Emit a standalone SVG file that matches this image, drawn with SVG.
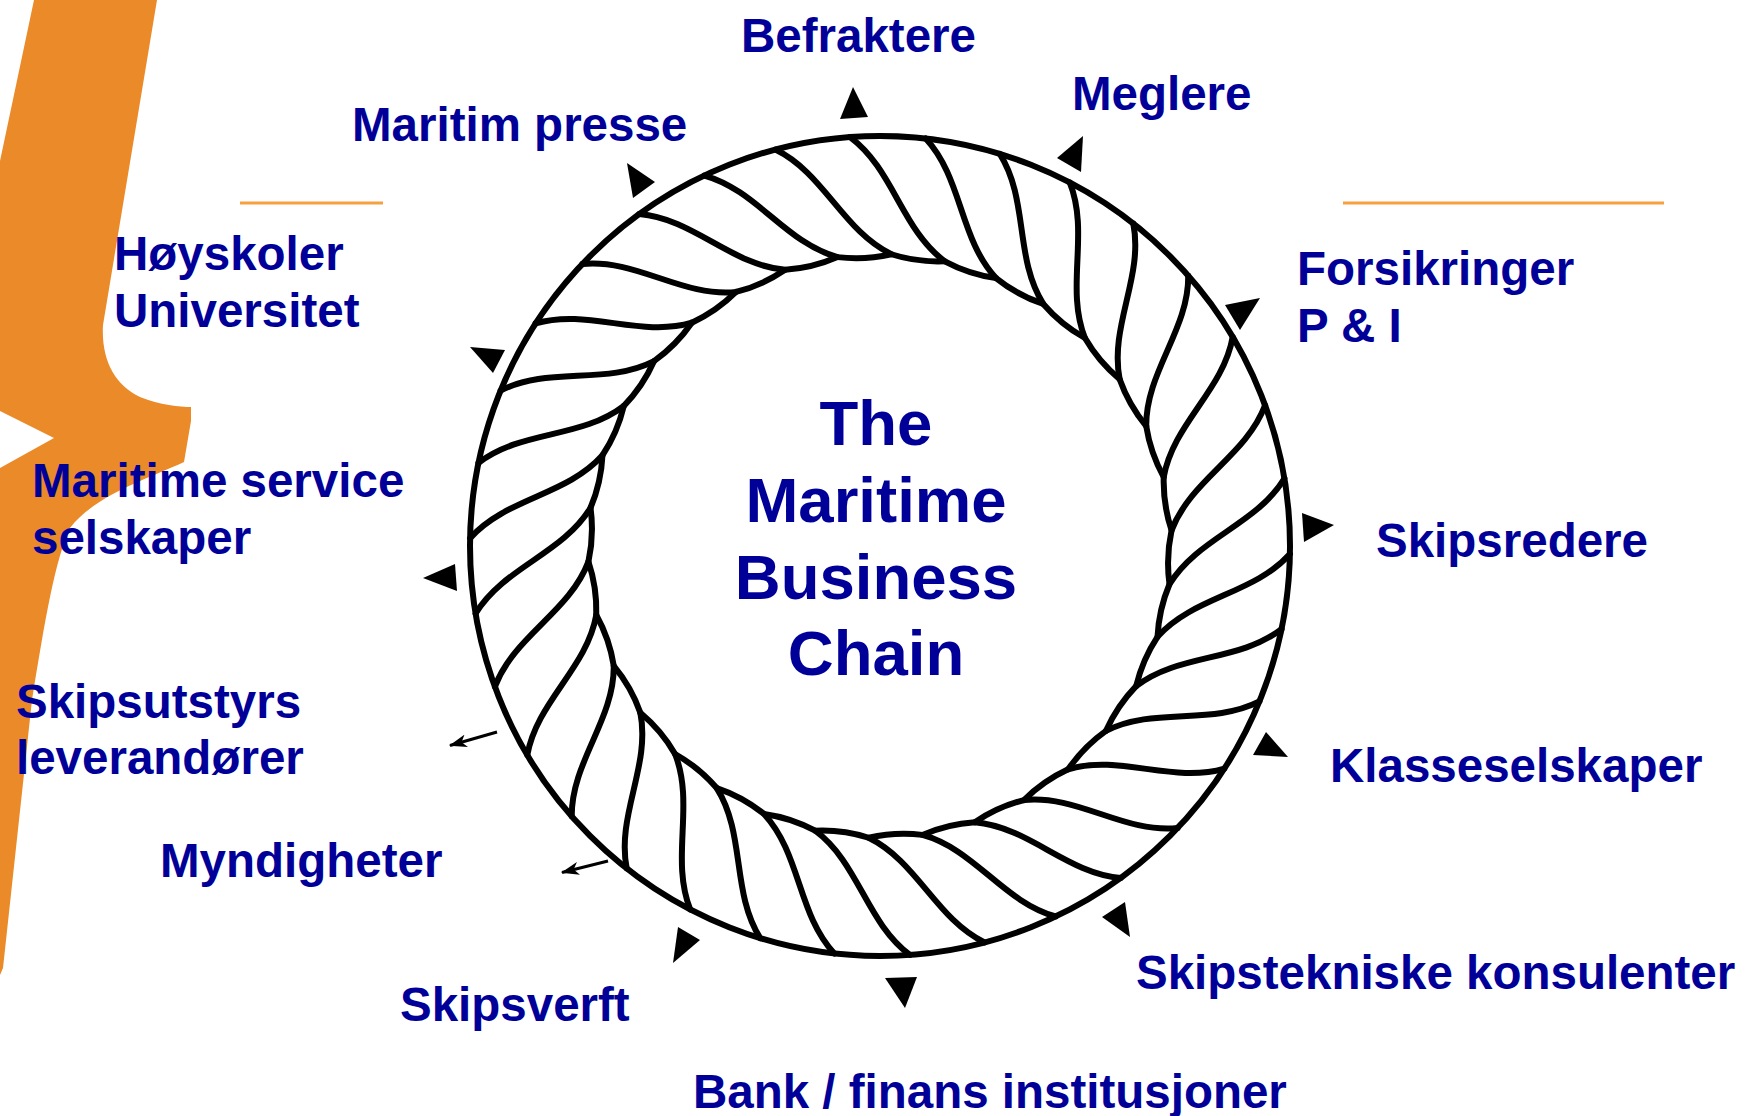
<svg xmlns="http://www.w3.org/2000/svg" width="1745" height="1116" viewBox="0 0 1745 1116">
<style>
.lbl{font-family:"Liberation Sans",Arial,sans-serif;font-weight:bold;font-size:47.5px;fill:#000099}
.title{font-family:"Liberation Sans",Arial,sans-serif;font-weight:bold;font-size:63.5px;fill:#000099;text-anchor:middle}
.rope{fill:none;stroke:#000;stroke-width:6;stroke-linecap:round;stroke-linejoin:round}
.tri{fill:#000;stroke:none}
.thin{stroke:#000;stroke-width:3;fill:none}
.deco{stroke:#F7A040;stroke-width:3;fill:none}
</style>
<defs>
<path id="strand" d="M410,0 C374.6,41.1 314.6,44.3 279.2,85.4 Q264.6,108.5 258.8,135.2"/>
<marker id="ah" markerUnits="userSpaceOnUse" markerWidth="18" markerHeight="13" viewBox="0 0 18 13" refX="17" refY="6.5" orient="auto"><path d="M0,0 L18,6.5 L0,13 L5,6.5 Z" fill="#000"/></marker>
</defs>
<rect width="1745" height="1116" fill="#fff"/>
<g id="decoration">
<path id="swoosh" fill="#EB8A28" d="M34,0 L157,0 L103,325 C101,360 115,385 140,397 C160,405 180,407 191,407 L191,421 L184,462 C150,478 95,495 70,528 C55,560 45,620 32,700 L3,968 L0,975 L0,468 L54,438 L0,411 L0,161 Z"/>
<line class="deco" x1="240" y1="203" x2="383" y2="203"/>
<line class="deco" x1="1343" y1="203" x2="1664" y2="203"/>
</g>
<g id="rope" class="rope" transform="translate(880,546)">
<circle r="410"/>
<use href="#strand" transform="rotate(-83.6)"/>
<use href="#strand" transform="rotate(-73.01)"/>
<use href="#strand" transform="rotate(-62.42)"/>
<use href="#strand" transform="rotate(-51.84)"/>
<use href="#strand" transform="rotate(-41.25)"/>
<use href="#strand" transform="rotate(-30.66)"/>
<use href="#strand" transform="rotate(-20.07)"/>
<use href="#strand" transform="rotate(-9.48)"/>
<use href="#strand" transform="rotate(1.11)"/>
<use href="#strand" transform="rotate(11.69)"/>
<use href="#strand" transform="rotate(22.28)"/>
<use href="#strand" transform="rotate(32.87)"/>
<use href="#strand" transform="rotate(43.46)"/>
<use href="#strand" transform="rotate(54.05)"/>
<use href="#strand" transform="rotate(64.63)"/>
<use href="#strand" transform="rotate(75.22)"/>
<use href="#strand" transform="rotate(85.81)"/>
<use href="#strand" transform="rotate(96.40)"/>
<use href="#strand" transform="rotate(106.99)"/>
<use href="#strand" transform="rotate(117.58)"/>
<use href="#strand" transform="rotate(128.16)"/>
<use href="#strand" transform="rotate(138.75)"/>
<use href="#strand" transform="rotate(149.34)"/>
<use href="#strand" transform="rotate(159.93)"/>
<use href="#strand" transform="rotate(170.52)"/>
<use href="#strand" transform="rotate(181.10)"/>
<use href="#strand" transform="rotate(191.69)"/>
<use href="#strand" transform="rotate(202.28)"/>
<use href="#strand" transform="rotate(212.87)"/>
<use href="#strand" transform="rotate(223.46)"/>
<use href="#strand" transform="rotate(234.05)"/>
<use href="#strand" transform="rotate(244.63)"/>
<use href="#strand" transform="rotate(255.22)"/>
<use href="#strand" transform="rotate(265.81)"/>
</g>
<g id="title">
<text class="title" x="876" y="445">The</text>
<text class="title" x="876" y="522">Maritime</text>
<text class="title" x="876" y="599">Business</text>
<text class="title" x="876" y="675">Chain</text>
</g>
<g id="connectors">
<polygon class="tri" points="853,87 840,119 868,117"/>
<polygon class="tri" points="1083,136 1057,158 1081,172"/>
<polygon class="tri" points="1260,298 1225,305 1240,330"/>
<polygon class="tri" points="1302,513 1334,525 1304,542"/>
<polygon class="tri" points="1266,732 1253,755 1288,757"/>
<polygon class="tri" points="1125,902 1102,917 1130,937"/>
<polygon class="tri" points="885,978 917,977 905,1008"/>
<polygon class="tri" points="678,927 700,940 673,963"/>
<polygon class="tri" points="423,578 455,564 457,591"/>
<polygon class="tri" points="470,347 505,350 493,373"/>
<polygon class="tri" points="627,163 655,182 633,198"/>
<line class="thin" x1="497" y1="732" x2="450" y2="745.5" marker-end="url(#ah)"/>
<line class="thin" x1="608" y1="861" x2="562" y2="872.5" marker-end="url(#ah)"/>
</g>
<g id="n-befraktere"><text class="lbl" x="741" y="52">Befraktere</text></g>
<g id="n-meglere"><text class="lbl" x="1072" y="110">Meglere</text></g>
<g id="n-presse"><text class="lbl" x="352" y="141">Maritim presse</text></g>
<g id="n-hoyskoler"><text class="lbl" x="114" y="270">Høyskoler</text><text class="lbl" x="114" y="327">Universitet</text></g>
<g id="n-forsikringer"><text class="lbl" x="1297" y="285">Forsikringer</text><text class="lbl" x="1297" y="342">P &amp; I</text></g>
<g id="n-service"><text class="lbl" x="32" y="497">Maritime service</text><text class="lbl" x="32" y="554">selskaper</text></g>
<g id="n-skipsredere"><text class="lbl" x="1376" y="557">Skipsredere</text></g>
<g id="n-utstyr"><text class="lbl" x="16" y="718">Skipsutstyrs</text><text class="lbl" x="16" y="774">leverandører</text></g>
<g id="n-klasse"><text class="lbl" x="1330" y="782">Klasseselskaper</text></g>
<g id="n-myndigheter"><text class="lbl" x="160" y="877">Myndigheter</text></g>
<g id="n-konsulenter"><text class="lbl" x="1136" y="989">Skipstekniske konsulenter</text></g>
<g id="n-skipsverft"><text class="lbl" x="400" y="1021">Skipsverft</text></g>
<g id="n-bank"><text class="lbl" x="693" y="1108">Bank / finans institusjoner</text></g>
</svg>
